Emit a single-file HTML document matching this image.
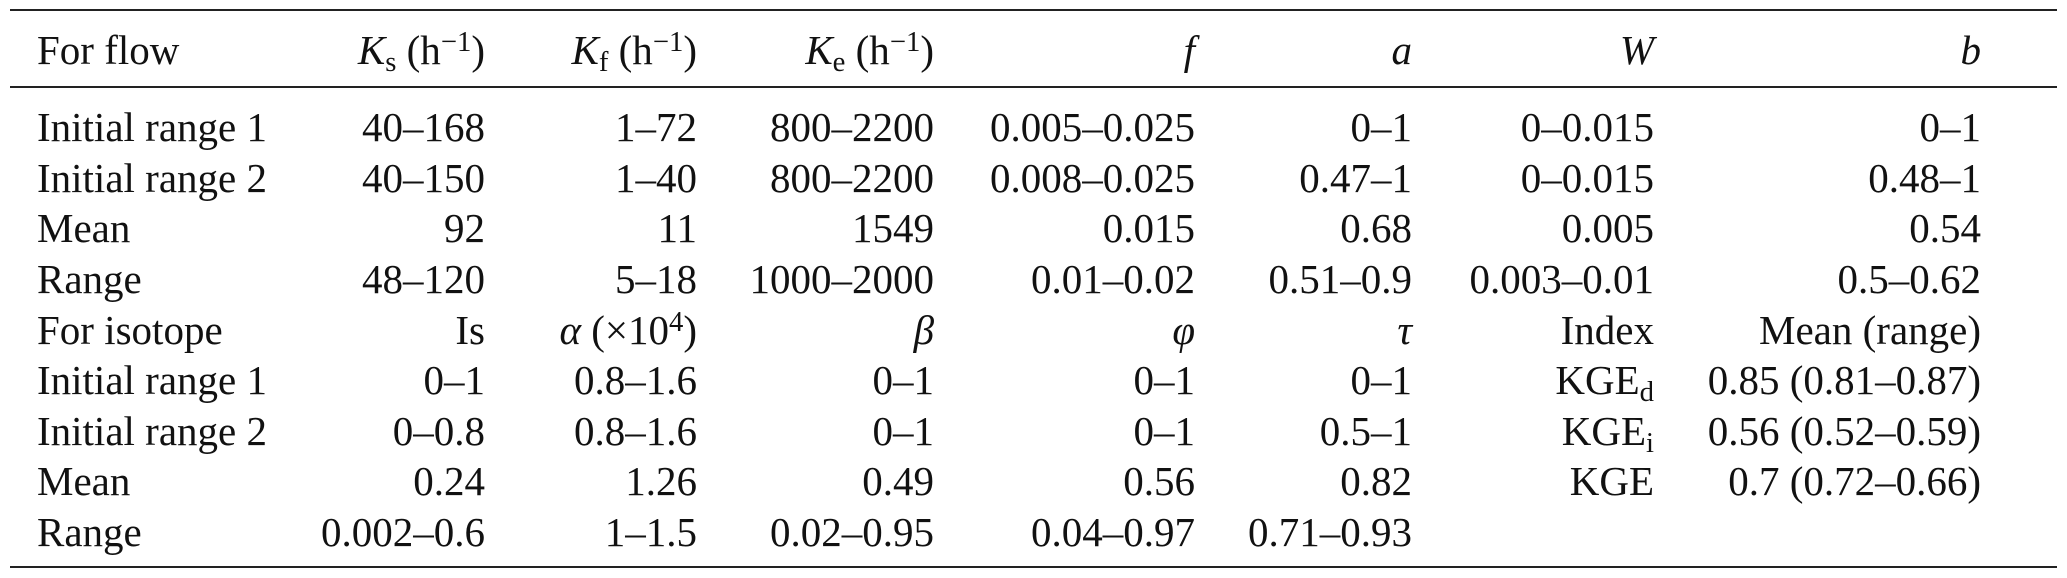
<!DOCTYPE html>
<html><head><meta charset="utf-8"><style>
body{margin:0;width:2067px;height:578px;background:#fff;position:relative;overflow:hidden;font-family:"Liberation Serif",serif;font-size:41px;color:#111}
.c{position:absolute;white-space:nowrap;height:50px;line-height:50px}
.rule{position:absolute;left:10px;width:2047px;background:#222}
sub{font-size:0.7em;vertical-align:-0.25em;line-height:0}
sup{font-size:0.7em;vertical-align:0.45em;line-height:0}
i{font-style:italic}
</style></head><body>
<div class="rule" style="top:9px;height:2px"></div>
<div class="rule" style="top:86px;height:1.5px"></div>
<div class="rule" style="top:566px;height:2px"></div>
<div id="t"></div>
<script>
const rows=[
[25,["For flow","<i>K</i><sub>s</sub> (h<sup>−1</sup>)","<i>K</i><sub>f</sub> (h<sup>−1</sup>)","<i>K</i><sub>e</sub> (h<sup>−1</sup>)","<i>f</i>","<i>a</i>","<i>W</i>","<i>b</i>"]],
[102,["Initial range 1","40–168","1–72","800–2200","0.005–0.025","0–1","0–0.015","0–1"]],
[153,["Initial range 2","40–150","1–40","800–2200","0.008–0.025","0.47–1","0–0.015","0.48–1"]],
[203,["Mean","92","11","1549","0.015","0.68","0.005","0.54"]],
[254,["Range","48–120","5–18","1000–2000","0.01–0.02","0.51–0.9","0.003–0.01","0.5–0.62"]],
[305,["For isotope","Is","<i>α</i> (×10<sup>4</sup>)","<i>β</i>","<i>φ</i>","<i>τ</i>","Index","Mean (range)"]],
[355,["Initial range 1","0–1","0.8–1.6","0–1","0–1","0–1","KGE<sub>d</sub>","0.85 (0.81–0.87)"]],
[406,["Initial range 2","0–0.8","0.8–1.6","0–1","0–1","0.5–1","KGE<sub>i</sub>","0.56 (0.52–0.59)"]],
[456,["Mean","0.24","1.26","0.49","0.56","0.82","KGE","0.7 (0.72–0.66)"]],
[507,["Range","0.002–0.6","1–1.5","0.02–0.95","0.04–0.97","0.71–0.93","",""]]
];
const rights=[485,697,934,1195,1412,1654,1981];
let h="";
for(const [y,cells] of rows){
 h+=`<div class="c" style="top:${y}px;left:37px">${cells[0]}</div>`;
 for(let k=1;k<8;k++) h+=`<div class="c" style="top:${y}px;right:${2067-rights[k-1]}px">${cells[k]}</div>`;
}
document.getElementById("t").innerHTML=h;
</script>
</body></html>
